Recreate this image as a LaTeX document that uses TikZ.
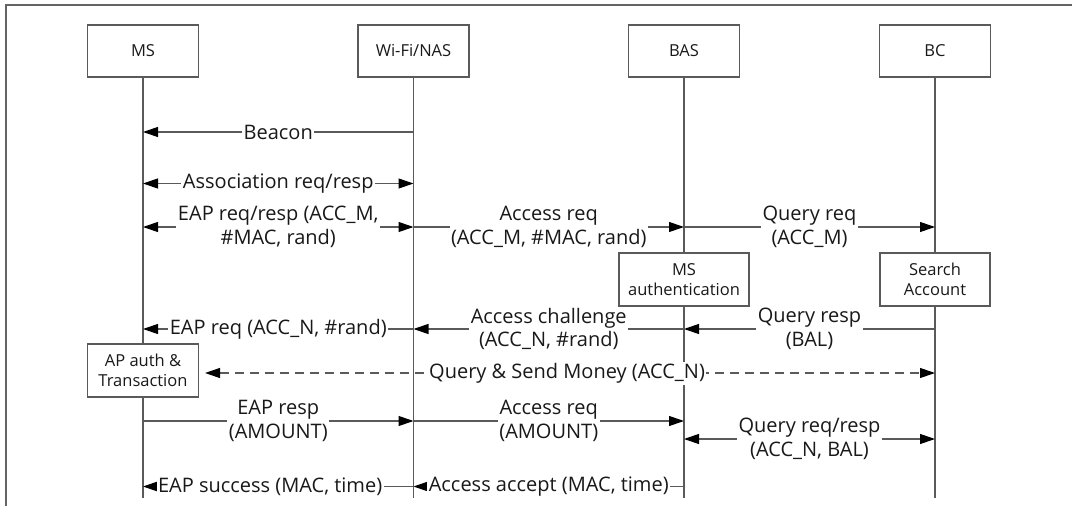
\documentclass[tikz,border=0pt]{standalone}
\usepackage{fontspec}
\setmainfont{Open Sans}
\usetikzlibrary{arrows.meta}
\definecolor{linecol}{RGB}{90,90,90}
\definecolor{framecol}{RGB}{100,100,100}
\definecolor{txtcol}{RGB}{25,25,25}
\tikzset{
  tip/.tip={Triangle[length=15pt,width=10pt,color=black]},
  head/.style={draw=linecol, line width=1.1pt, fill=white, minimum width=111pt,
    minimum height=52pt, inner sep=0pt, text=txtcol,
    font=\fontsize{16.5}{19.7}\selectfont, align=center},
  actbox/.style={head, minimum height=53pt},
  life/.style={draw=linecol, line width=1.1pt},
  msg/.style={draw=linecol, line width=1.1pt, -tip},
  msgboth/.style={msg, tip-tip},
  lbl/.style={fill=white, inner sep=1.5pt, text=txtcol,
    font=\fontsize{20}{23.5}\selectfont, align=center},
}
\begin{document}
\begin{tikzpicture}[x=1pt,y=-1pt]
\useasboundingbox (0,0) rectangle (1072,506);
% frame
\draw[framecol, line width=1.5pt] (1072,5) -- (6,5) -- (6,506);

% participants
\node[head] (ms)  at (143,51) {MS};
\node[head] (nas) at (413.5,51) {Wi-Fi/NAS};
\node[head] (bas) at (684,51) {BAS};
\node[head] (bc)  at (935,51) {BC};

% lifeline ends
\coordinate (msend)  at (143,498);
\coordinate (nasend) at (413.5,498);
\coordinate (basend) at (684,498);
\coordinate (bcend)  at (935,498);
\draw[life] (ms.south) -- (msend);
\draw[life] (nas.south) -- (nasend);
\draw[life] (bas.south) -- (basend);
\draw[life] (bc.south) -- (bcend);

% processing boxes on the lifelines
\node[actbox] (ap)     at (143,370.5) {AP auth \&\\Transaction};
\node[actbox, minimum width=130pt] (auth) at (684,279.5) {MS\\authentication};
\node[actbox, minimum width=110pt] (search) at (935,279.5) {Search\\Account};

% message rows
\coordinate (r1) at (0,132);
\coordinate (r2) at (0,183.5);
\coordinate (r3) at (0,227);
\coordinate (r4) at (0,329);
\coordinate (r5) at (0,373);
\coordinate (r6) at (0,421);
\coordinate (r7) at (0,439);
\coordinate (r8) at (0,486.5);

\draw[msg] (nas |- r1) -- node[lbl] {Beacon} (ms |- r1);
\draw[msgboth] (ms |- r2) -- node[lbl] {Association req/resp} (nas |- r2);
\draw[msgboth] (ms |- r3) -- node[lbl] {EAP req/resp (ACC\_M,\\\#MAC, rand)} (nas |- r3);
\draw[msg] (nas |- r3) -- node[lbl] {Access req\\(ACC\_M, \#MAC, rand)} (bas |- r3);
\draw[msg] (bas |- r3) -- node[lbl] {Query req\\(ACC\_M)} (bc |- r3);

\draw[msg] (nas |- r4) -- node[lbl] {EAP req (ACC\_N, \#rand)} (ms |- r4);
\draw[msg] (bas |- r4) -- node[lbl] {Access challenge\\(ACC\_N, \#rand)} (nas |- r4);
\draw[msg] (bc |- r4) -- node[lbl] {Query resp\\(BAL)} (bas |- r4);

\draw[msgboth, dash pattern=on 9pt off 6pt, shorten <=6pt] (ap.east |- r5)
  -- node[lbl] {Query \& Send Money (ACC\_N)} (bc |- r5);

\draw[msg] (ms |- r6) -- node[lbl] {EAP resp\\(AMOUNT)} (nas |- r6);
\draw[msg] (nas |- r6) -- node[lbl] {Access req\\(AMOUNT)} (bas |- r6);
\draw[msgboth] (bas |- r7) -- node[lbl] {Query req/resp\\(ACC\_N, BAL)} (bc |- r7);

\draw[msg] (nas |- r8) -- node[lbl, pos=0.53] {EAP success (MAC, time)} (ms |- r8);
\draw[msg] (bas |- r8) -- node[lbl] {Access accept (MAC, time)} (nas |- r8);
\end{tikzpicture}
\end{document}
